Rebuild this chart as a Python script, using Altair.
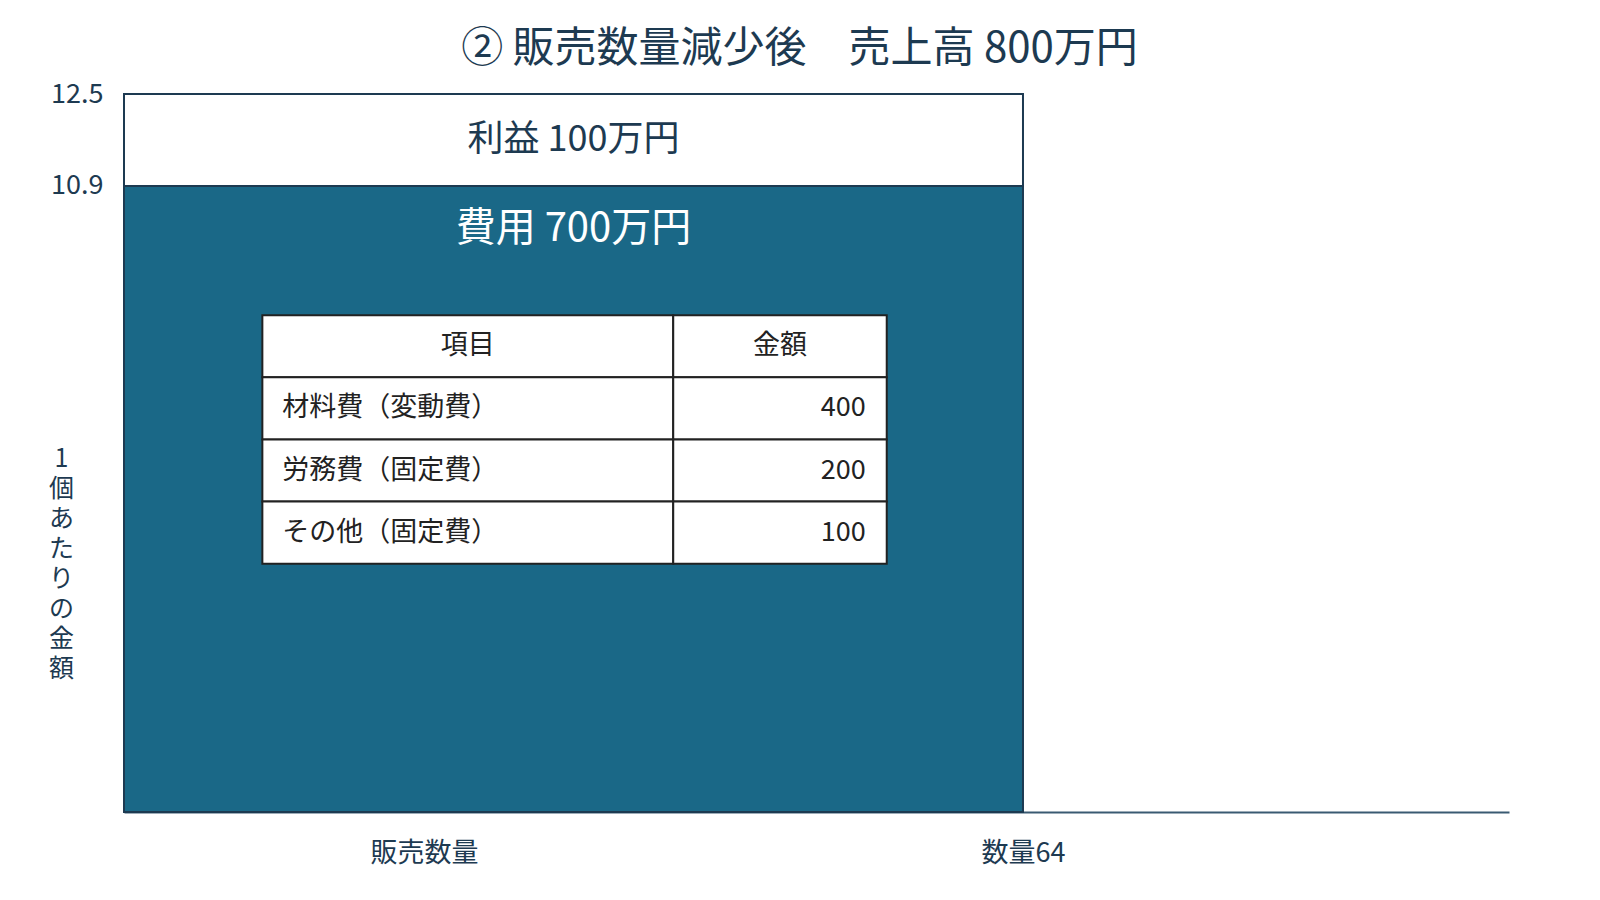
import altair as alt
import pandas as pd

# ---- data ----
title_text = "② 販売数量減少後　売上高 800万円"
sales_qty = 64
unit_price = 12.5
unit_cost = 10.9
profit_label = "利益 100万円"
cost_label = "費用 700万円"
y_axis_title = "1個あたりの金額"
x_axis_title = "販売数量"
x_label_prefix = "数量"
y_ticks = [10.9, 12.5]

table_header = ["項目", "金額"]
table_items = ["材料費（変動費）", "労務費（固定費）", "その他（固定費）"]
table_amounts = [400, 200, 100]

# ---- styling / layout ----
FONT = "Noto Sans CJK JP"
NAVY = "#1d3a51"
BAR = "#1a6887"
TXT = "#222222"
X_MAX = 98.6

# table layout in data units
T_LEFT, T_DIV, T_RIGHT = 9.85, 39.1, 54.3
T_TOP, ROW_H = 8.65, 1.082

xs = alt.Scale(domain=[0, X_MAX], nice=False, zero=True)
ys = alt.Scale(domain=[0, unit_price], nice=False, zero=True)

blocks = pd.DataFrame({
    "x0": [0, 0],
    "x1": [sales_qty, sales_qty],
    "y0": [0, unit_cost],
    "y1": [unit_cost, unit_price],
    "kind": ["cost", "profit"],
})

bars = alt.Chart(blocks).mark_rect(stroke=NAVY, strokeWidth=2).encode(
    x=alt.X("x0:Q", scale=xs,
            axis=alt.Axis(values=[sales_qty], labelExpr=f"'{x_label_prefix}' + datum.value",
                          title=x_axis_title, titleX=300, titleY=41, titleBaseline="middle",
                          titleAlign="center", titleFontWeight="normal", titleFontSize=27,
                          titleColor=NAVY, labelFontSize=27, labelColor=NAVY,
                          labelBaseline="middle", labelPadding=41, ticks=False, tickSize=0,
                          grid=False, domainColor="#3a5a72", domainWidth=2, labelFont=FONT,
                          titleFont=FONT)),
    x2="x1:Q",
    y=alt.Y("y0:Q", scale=ys,
            axis=alt.Axis(values=y_ticks, title=list(y_axis_title), titleAngle=0,
                          titleX=-63, titleY=352, titleBaseline="top", titleAlign="center",
                          titleFontWeight="normal", titleFontSize=25, titleLineHeight=30,
                          titleColor=NAVY, labelFontSize=27, labelColor=NAVY,
                          labelPadding=21, ticks=False, tickSize=0, grid=False,
                          domainColor=NAVY, domainWidth=2, labelFont=FONT, titleFont=FONT,
                          format=".1f")),
    y2="y1:Q",
    color=alt.Color("kind:N", scale=alt.Scale(domain=["cost", "profit"], range=[BAR, "#ffffff"]),
                    legend=None),
)

labels = pd.DataFrame({
    "x": [sales_qty / 2, sales_qty / 2],
    "y": [(unit_cost + unit_price) / 2, unit_cost - 0.75],
    "t": [profit_label, cost_label],
})
profit_txt = alt.Chart(labels.iloc[[0]]).mark_text(font=FONT, fontSize=36, color=NAVY,
                                                   baseline="middle").encode(
    x=alt.X("x:Q", scale=xs), y=alt.Y("y:Q", scale=ys), text="t:N")
cost_txt = alt.Chart(labels.iloc[[1]]).mark_text(font=FONT, fontSize=40, color="#ffffff",
                                                 baseline="middle").encode(
    x=alt.X("x:Q", scale=xs), y=alt.Y("y:Q", scale=ys), text="t:N")

# table cells
rows = [table_header] + [[it, str(a)] for it, a in zip(table_items, table_amounts)]
cells = []
texts = []
for i, (c1, c2) in enumerate(rows):
    top = T_TOP - i * ROW_H
    bot = top - ROW_H
    mid = (top + bot) / 2
    cells.append({"x0": T_LEFT, "x1": T_DIV, "y0": bot, "y1": top})
    cells.append({"x0": T_DIV, "x1": T_RIGHT, "y0": bot, "y1": top})
    if i == 0:
        texts.append({"x": (T_LEFT + T_DIV) / 2, "y": mid, "t": c1, "a": "center"})
        texts.append({"x": (T_DIV + T_RIGHT) / 2, "y": mid, "t": c2, "a": "center"})
    else:
        texts.append({"x": T_LEFT + 1.42, "y": mid, "t": c1, "a": "left"})
        texts.append({"x": T_RIGHT - 1.5, "y": mid, "t": c2, "a": "right"})
cells_df = pd.DataFrame(cells)
texts_df = pd.DataFrame(texts)

table_rects = alt.Chart(cells_df).mark_rect(fill="#ffffff", stroke=TXT, strokeWidth=2).encode(
    x=alt.X("x0:Q", scale=xs), x2="x1:Q", y=alt.Y("y0:Q", scale=ys), y2="y1:Q")

tt = []
for a in ["center", "left", "right"]:
    sub = texts_df[texts_df["a"] == a]
    tt.append(alt.Chart(sub).mark_text(font=FONT, fontSize=27, color=TXT, align=a,
                                       baseline="middle").encode(
        x=alt.X("x:Q", scale=xs), y=alt.Y("y:Q", scale=ys), text="t:N"))

chart = alt.layer(bars, profit_txt, cost_txt, table_rects, *tt).properties(
    width=1385, height=718,
    autosize=alt.AutoSizeParams(type="none"),
    padding={"left": 116, "top": 86, "right": 83, "bottom": 80},
    title=alt.TitleParams(text=title_text, font=FONT, fontSize=42, fontWeight="normal",
                          color=NAVY, anchor="middle", dx=-17, offset=9),
).configure(background="#ffffff").configure_view(strokeWidth=0, stroke="transparent")

chart.save("out.html", embed_options={"renderer": "svg", "actions": False})
